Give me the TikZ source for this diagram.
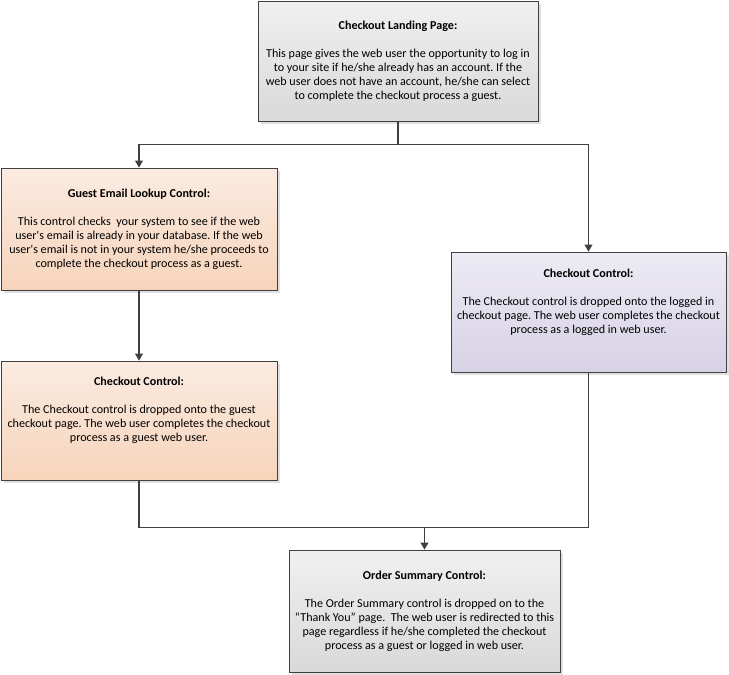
\documentclass[tikz,border=0pt]{standalone}
\usepackage{fontspec}
\setmainfont{Carlito}
\usetikzlibrary{arrows.meta, shadows}
\frenchspacing

\definecolor{edgegray}{HTML}{404040}
\definecolor{graytop}{HTML}{F0F0F0}
\definecolor{graybot}{HTML}{D9D9D9}
\definecolor{peachtop}{HTML}{FBEBE1}
\definecolor{peachbot}{HTML}{F6D4BB}
\definecolor{lavtop}{HTML}{EDEBF4}
\definecolor{lavbot}{HTML}{D7D1E5}

\begin{document}
\begin{tikzpicture}[x=1pt, y=-1pt, >={Triangle[width=8pt, length=7pt]},
    box/.style={draw=edgegray, line width=0.9pt, align=center, inner sep=4pt,
        font=\fontsize{12.1}{14}\selectfont,
        drop shadow={shadow xshift=3pt, shadow yshift=-3pt, fill=black!12, opacity=1}},
    graybox/.style={box, top color=graytop, bottom color=graybot},
    peachbox/.style={box, top color=peachtop, bottom color=peachbot},
    lavbox/.style={box, top color=lavtop, bottom color=lavbot},
    link/.style={draw=edgegray, line width=1.1pt}]
    \useasboundingbox (0,0) rectangle (729,675);

    % Startseite
    \node[graybox, minimum width=280, minimum height=120] (land) at (398,61)
        {\textbf{Checkout Landing Page:}\\[14pt]
        This page gives the web user the opportunity to log in\\
        to your site if he/she already has an account. If the\\
        web user does not have an account, he/she can select\\
        to complete the checkout process a guest.};

    % linker Zweig (Gast)
    \node[peachbox, minimum width=276, minimum height=122] (guest) at (139,229)
        {\textbf{Guest Email Lookup Control:}\\[14pt]
        This control checks\ \ your system to see if the web\\
        user\textquotesingle s email is already in your database. If the web\\
        user\textquotesingle s email is not in your system he/she proceeds to\\
        complete the checkout process as a guest.};
    \node[peachbox, minimum width=276, minimum height=119] (gco) at (139,420.5)
        {\textbf{Checkout Control:}\\[14pt]
        The Checkout control is dropped onto the guest\\
        checkout page. The web user completes the checkout\\
        process as a guest web user.\\[8pt]};

    % rechter Zweig (angemeldet)
    \node[lavbox, minimum width=275, minimum height=120] (lco) at (588.5,312)
        {\textbf{Checkout Control:}\\[14pt]
        The Checkout control is dropped onto the logged in\\
        checkout page. The web user completes the checkout\\
        process as a logged in web user.\\[8pt]};

    % Abschluss
    \node[graybox, minimum width=271, minimum height=122] (order) at (424.5,611)
        {\textbf{Order Summary Control:}\\[14pt]
        The Order Summary control is dropped on to the\\
        “Thank You” page.\ \ The web user is redirected to this\\
        page regardless if he/she completed the checkout\\
        process as a guest or logged in web user.};

    % Verbindungen
    \draw[link] (land.south) -- ++(0,23) coordinate (fork);
    \draw[link, ->] (fork) -| (guest.north);
    \draw[link, ->] (fork) -| (lco.north);
    \draw[link, ->] (guest) -- (gco);
    \path (order.north) ++(0,-22) coordinate (merge);
    \draw[link] (gco.south) |- (merge) -| (lco.south);
    \draw[link, ->] (merge) -- (order.north);
\end{tikzpicture}
\end{document}
